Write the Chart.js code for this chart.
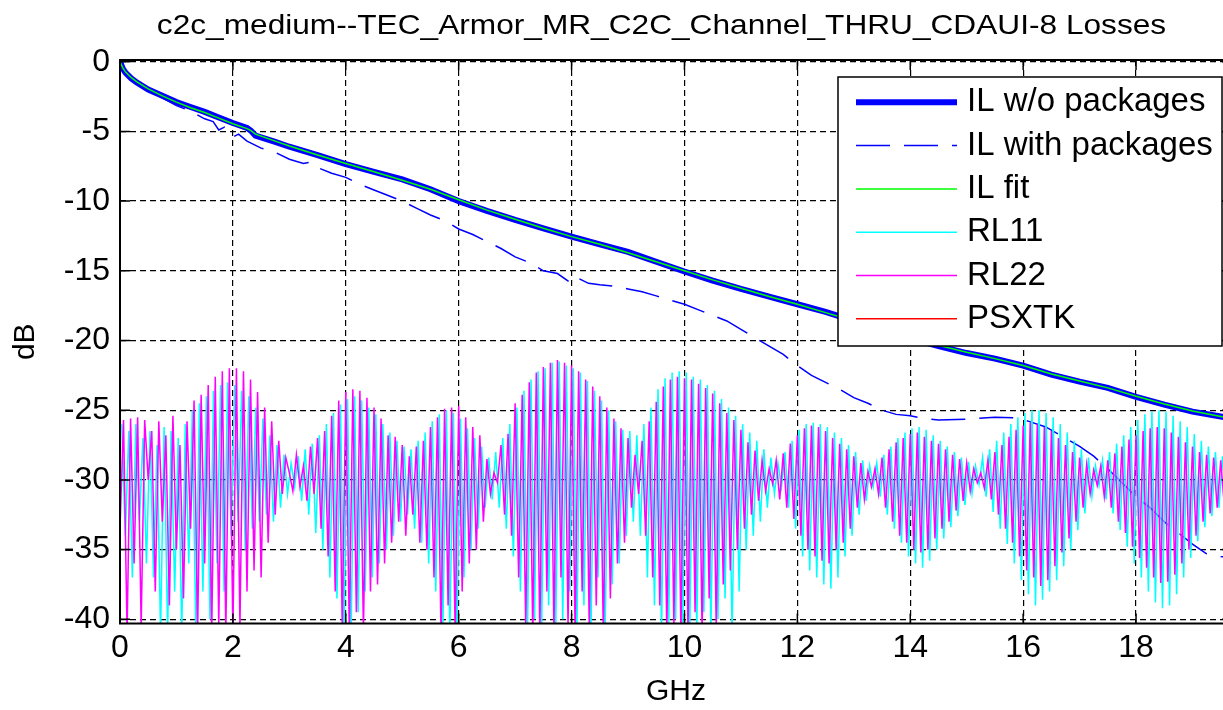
<!DOCTYPE html>
<html>
<head>
<meta charset="utf-8">
<script src="https://cdn.jsdelivr.net/npm/chart.js@4.4.1/dist/chart.umd.min.js"></script>
<style>
  html, body { margin: 0; padding: 0; background: #fff; overflow: hidden; }
  #wrap { width: 1240px; height: 710px; }
</style>
</head>
<body>
<div id="wrap"><canvas id="lossChart" width="1240" height="710"></canvas></div>
<script>
const chartTitle = 'c2c_medium--TEC_Armor_MR_C2C_Channel_THRU_CDAUI-8 Losses';
const xTicks = [0, 2, 4, 6, 8, 10, 12, 14, 16, 18];
const yTicks = [0, -5, -10, -15, -20, -25, -30, -35, -40];

// insertion loss, GHz / dB
const ilFreq = [0, 0.05, 0.1, 0.2, 0.3, 0.5, 0.75, 1, 1.25, 1.5, 1.75, 2, 2.25, 2.32, 2.4, 2.75, 3, 3.5, 4, 4.5,
  5, 5.5, 6, 6.5, 7, 7.5, 8, 8.5, 9, 9.5, 10, 10.5, 11, 11.5, 12, 12.5, 13, 13.5, 14, 14.5,
  15, 15.5, 16, 16.5, 17, 17.5, 18, 18.5, 19, 19.5, 19.7];
const ilNoPkg = [0, -0.5, -0.8, -1.2, -1.5, -2.0, -2.45, -2.9, -3.25, -3.6, -4.0, -4.4, -4.75, -4.95, -5.3, -5.75, -6.1, -6.7, -7.35, -7.9,
  -8.45, -9.15, -10.0, -10.7, -11.35, -11.95, -12.55, -13.1, -13.65, -14.35, -15.05, -15.7, -16.3, -16.85, -17.4, -17.95, -18.6, -19.2, -19.85, -20.4,
  -20.9, -21.3, -21.8, -22.45, -22.95, -23.4, -24.05, -24.6, -25.1, -25.45, -25.6];
const ilFit = [0, -0.45, -0.75, -1.15, -1.45, -1.95, -2.45, -2.9, -3.3, -3.65, -4.05, -4.45, -4.8, -4.95, -5.2, -5.7, -6.05, -6.7, -7.3, -7.9,
  -8.5, -9.15, -9.9, -10.65, -11.3, -11.95, -12.55, -13.1, -13.7, -14.35, -15.0, -15.65, -16.25, -16.85, -17.4, -18.0, -18.6, -19.2, -19.8, -20.35,
  -20.85, -21.3, -21.8, -22.4, -22.9, -23.4, -24.0, -24.55, -25.05, -25.45, -25.6];

const ilPkgFreq = [0, 0.1, 0.25, 0.5, 0.75, 1, 1.25, 1.5, 1.65, 1.75, 1.85, 2, 2.1, 2.25, 2.5, 2.75, 3, 3.25, 3.4, 3.5,
  3.75, 4, 4.25, 4.5, 4.75, 5, 5.25, 5.5, 5.75, 6, 6.25, 6.5, 6.75, 7, 7.25, 7.5, 7.75, 8, 8.1, 8.3,
  8.5, 8.75, 9, 9.25, 9.5, 9.75, 10, 10.25, 10.5, 10.75, 11, 11.25, 11.5, 11.75, 12, 12.25, 12.5, 12.75, 13, 13.25,
  13.5, 13.75, 14, 14.25, 14.5, 15, 15.5, 15.9, 16.1, 16.4, 16.7, 17, 17.25, 17.5, 17.75, 18, 18.25, 18.5, 18.75, 19,
  19.25, 19.5, 19.7];
const ilPkg = [0, -0.8, -1.3, -2.0, -2.6, -3.15, -3.55, -4.1, -4.3, -4.9, -4.7, -5.4, -5.2, -5.7, -6.2, -6.5, -7.0, -7.3, -7.2, -7.6,
  -8.0, -8.3, -8.8, -9.2, -9.6, -10.0, -10.5, -11.0, -11.4, -12.0, -12.4, -12.9, -13.4, -14.0, -14.4, -15.0, -15.2, -15.9, -15.5, -15.9,
  -16.0, -16.1, -16.3, -16.5, -16.8, -17.1, -17.4, -17.8, -18.2, -18.6, -19.2, -19.8, -20.4, -21.0, -21.8, -22.5, -23.0, -23.5, -24.1, -24.5,
  -25.0, -25.3, -25.4, -25.6, -25.7, -25.65, -25.5, -25.55, -25.8, -26.2, -26.9, -27.6, -28.3, -29.2, -30.2, -31.2, -32.0, -33.0, -33.8, -34.6,
  -35.3, -35.5, -35.6];

// return loss sweeps, one value every rlStep GHz
const rlStep = 0.0625;
const rl11 = [
  -26, -34, -26.5, -37, -26, -33, -27, -36,
  -26.5, -37, -27.5, -41, -26.2, -41, -26.5, -38,
  -27, -41, -26, -36, -25, -41, -24.5, -38,
  -24, -40, -23.6, -36, -23.2, -38, -23, -34,
  -23.2, -33, -23.6, -35, -24, -33.5, -24.8, -33,
  -25.6, -32.5, -26.8, -33, -27.5, -32, -28.2, -31,
  -28.8, -30.5, -28.3, -31.5, -27.8, -32.5, -27.4, -33.8,
  -26.8, -35, -26, -37, -25.2, -38.5, -24.6, -41,
  -24.2, -41, -24, -39.5, -24.3, -38, -24.8, -37,
  -25.3, -36, -26, -35, -26.6, -34, -27.2, -33,
  -27.6, -32.5, -27.8, -33.5, -27.2, -34.5, -26.6, -36,
  -25.8, -38, -25.3, -41, -25, -41, -25.2, -41,
  -25.6, -37, -26.3, -35, -27, -33.5, -27.6, -32,
  -28.4, -31.4, -28, -32, -27, -33.5, -26, -35.5,
  -24.8, -38, -23.6, -41, -22.8, -40, -22.2, -41,
  -22, -39, -21.6, -41, -21.5, -40, -21.8, -38,
  -22, -41, -22.3, -39, -22.9, -41, -23.6, -37,
  -24.3, -41, -25, -37.5, -25.8, -36, -26.4, -34,
  -26.5, -33, -26.8, -34, -26, -37, -24.8, -39,
  -23.5, -41, -22.7, -41, -22.3, -40, -22.2, -41,
  -22.3, -41, -22.6, -41, -22.8, -39.5, -23.2, -41,
  -23.6, -40, -24.2, -38.5, -24.8, -41, -25.4, -38,
  -26, -35, -26.6, -34, -27.2, -33, -27.8, -32,
  -28.4, -31, -28.8, -30.5, -28, -32, -27.2, -33.5,
  -26.4, -35.5, -26, -36.5, -25.9, -37, -26, -37.5,
  -26.2, -37.8, -26.6, -37, -27, -35.5, -27.5, -34,
  -28, -32.5, -28.6, -31.5, -29, -30.5, -28.8, -31.2,
  -28.2, -32.5, -27.6, -33.5, -27, -34.5, -26.6, -35.5,
  -26.3, -36, -26.2, -36.3, -26.4, -35.8, -26.8, -35,
  -27.2, -34.2, -27.6, -33.4, -28, -32.6, -28.4, -31.8,
  -28.7, -31, -29, -30.3, -28.4, -31.2, -27.8, -32.3,
  -27.2, -33.5, -26.6, -34.6, -26, -36, -25.5, -37.2,
  -25.2, -38.2, -25, -39, -25, -38.6, -25.2, -38,
  -25.5, -37.2, -26, -36.2, -26.6, -35, -27.2, -33.6,
  -27.8, -32.4, -28.4, -31.2, -29, -30.4, -28.6, -31.4,
  -28, -32.4, -27.4, -33.6, -26.8, -34.8, -26.2, -36,
  -25.7, -37, -25.3, -38, -25.1, -38.8, -25, -39.2,
  -25.1, -39, -25.4, -38.2, -25.8, -37, -26.2, -35.6,
  -26.7, -34.4, -27.2, -33.4, -27.6, -32.6, -28, -32,
  -28.3, -31.6, -28, -32.4
];
const rl22 = [
  -33.5, -25.7, -41, -25.6, -36, -25.5, -40.5, -25.7,
  -30, -26.5, -38, -25.8, -33, -26.8, -39, -25.4,
  -35, -27.5, -38.5, -25.8, -33.5, -24.3, -41, -23.9,
  -36, -23.2, -41, -22.6, -40.5, -22.2, -41, -22.0,
  -41, -22.0, -40.5, -22.2, -38, -22.8, -36.5, -23.7,
  -37, -24.8, -34.5, -25.8, -32.5, -27.2, -31, -28.4,
  -29.5, -30.8, -28.2, -30.5, -29, -31.5, -27.6, -31,
  -27, -33.5, -26.5, -35.5, -25.4, -38, -24.3, -40.5,
  -23.7, -41, -23.5, -39.5, -23.6, -41, -24.1, -38,
  -24.8, -37.5, -25.6, -36, -26.8, -34.5, -26.9, -33,
  -27.5, -34, -28.3, -32.5, -27.6, -34.5, -27.2, -35,
  -26.2, -37, -25.5, -41, -24.9, -39, -24.8, -41,
  -24.7, -38, -25.5, -36, -26.2, -35, -26.8, -33,
  -28.5, -31, -29.5, -30.2, -27.5, -32.5, -26.7, -34,
  -24.5, -37, -23.9, -40.5, -23, -41, -22.3, -41,
  -21.9, -38, -21.6, -41, -21.4, -37, -21.6, -40.5,
  -21.8, -41, -22.2, -38, -22.8, -40.5, -23.3, -39,
  -24, -41, -24.8, -38.5, -25.6, -36, -26.3, -34.5,
  -27, -32, -28.2, -31, -27.2, -34, -25.8, -37,
  -24.4, -39, -23.3, -41, -22.8, -40.5, -22.6, -41,
  -22.7, -41, -22.8, -39.5, -23.1, -41, -23.4, -38.5,
  -23.8, -40.5, -24.5, -37.5, -25.2, -36.5, -25.7, -35,
  -26.4, -33.5, -27.3, -32.5, -27.9, -31.5, -28.6, -30.8,
  -29.2, -30.3, -28.6, -31.4, -28.1, -32, -27.4, -32.8,
  -26.8, -34, -26.3, -35, -26.1, -35.5, -26.2, -35.8,
  -26.5, -36, -27, -35, -27.4, -34.5, -27.8, -33.5,
  -28.3, -32, -28.8, -31.4, -29.4, -30.5, -29.2, -31,
  -28.4, -32, -27.8, -33, -27.3, -34, -27, -34.5,
  -26.7, -35, -26.6, -35.2, -26.9, -35, -27.2, -34.2,
  -27.4, -33.5, -27.8, -33, -28.2, -32.2, -28.5, -31.5,
  -28.8, -30.8, -29.2, -30.2, -29.5, -30.6, -28.6, -31.4,
  -28, -32.5, -27.5, -33.5, -26.9, -34.5, -26.4, -35.5,
  -26.1, -36.5, -25.9, -37, -26, -37.6, -26.2, -37.2,
  -26.5, -36.2, -27, -35.2, -27.5, -34.2, -28, -33,
  -28.4, -32, -28.9, -31, -29.3, -30.4, -29, -31.2,
  -28.6, -32, -28.1, -33, -27.6, -33.8, -27.1, -34.8,
  -26.8, -35.6, -26.5, -36.3, -26.3, -37, -26.2, -37.4,
  -26.3, -37.3, -26.6, -36.8, -26.9, -36, -27.3, -35,
  -27.6, -34, -28, -33, -28.2, -32.4, -28.4, -32,
  -28.6, -31.8, -28.3, -32.6
];
const psxtk = []; // stays below -40 dB, nothing visible

const pts = (xs, ys) => ys.map((v, i) => ({ x: xs[i], y: v }));
const sweep = (ys, shift) => ys.map((v, i) => ({ x: (i + shift) * rlStep, y: v }));

const FONT = '"Liberation Sans", Arial, sans-serif';
Chart.defaults.font.family = FONT;
Chart.defaults.color = '#000';

// matlab style box, inner ticks, title and legend
const matlabFrame = {
  id: 'matlabFrame',
  afterDraw(chart) {
    const { ctx, chartArea: a, scales: { x, y } } = chart;
    ctx.save();
    ctx.strokeStyle = '#000';
    ctx.lineWidth = 1.5;
    ctx.beginPath();
    x.ticks.forEach(t => {
      const px = x.getPixelForValue(t.value);
      ctx.moveTo(px, a.bottom); ctx.lineTo(px, a.bottom - 10);
      ctx.moveTo(px, a.top); ctx.lineTo(px, a.top + 10);
    });
    y.ticks.forEach(t => {
      const py = y.getPixelForValue(t.value);
      ctx.moveTo(a.left, py); ctx.lineTo(a.left + 10, py);
      ctx.moveTo(a.right, py); ctx.lineTo(a.right - 10, py);
    });
    ctx.stroke();
    ctx.lineWidth = 2;
    ctx.strokeRect(a.left, a.top, a.right - a.left, a.bottom - a.top);

    // title
    ctx.save();
    ctx.fillStyle = '#000';
    ctx.font = '28px ' + FONT;
    ctx.textAlign = 'center';
    ctx.textBaseline = 'alphabetic';
    ctx.translate(661.5, 33.5);
    ctx.scale(1.13, 1);
    ctx.fillText(chartTitle, 0, 0);
    ctx.restore();

    // legend
    const box = { left: 838, top: 77, right: 1222, bottom: 346 };
    ctx.fillStyle = '#fff';
    ctx.fillRect(box.left, box.top, box.right - box.left, box.bottom - box.top);
    ctx.lineWidth = 1.5;
    ctx.strokeRect(box.left, box.top, box.right - box.left, box.bottom - box.top);
    ctx.font = '33px ' + FONT;
    ctx.textAlign = 'left';
    ctx.textBaseline = 'middle';
    chart.data.datasets.forEach((ds, i) => {
      const ly = 102.3 + i * 43.3;
      ctx.beginPath();
      ctx.setLineDash(ds.borderDash || []);
      ctx.lineWidth = ds.borderWidth;
      ctx.strokeStyle = ds.borderColor;
      ctx.moveTo(856, ly);
      ctx.lineTo(957, ly);
      ctx.stroke();
      ctx.setLineDash([]);
      ctx.fillStyle = '#000';
      ctx.fillText(ds.label, 967, ly);
    });
    ctx.restore();
  }
};

const ctx = document.getElementById('lossChart').getContext('2d');

new Chart(ctx, {
  type: 'line',
  data: {
    datasets: [
      { label: 'IL w/o packages', data: pts(ilFreq, ilNoPkg), borderColor: '#0000ff', borderWidth: 6, order: 6 },
      { label: 'IL with packages', data: pts(ilPkgFreq, ilPkg), borderColor: '#0000ff', borderWidth: 1.5, borderDash: [34, 14], order: 5 },
      { label: 'IL fit', data: pts(ilFreq, ilFit), borderColor: '#00ff00', borderWidth: 1.5, order: 4 },
      { label: 'RL11', data: sweep(rl11, 0.5), borderColor: '#00ffff', borderWidth: 1.5, order: 3, clip: 0 },
      { label: 'RL22', data: sweep(rl22, 0), borderColor: '#ff00ff', borderWidth: 1.5, order: 2, clip: 0 },
      { label: 'PSXTK', data: sweep(psxtk, 0), borderColor: '#ff0000', borderWidth: 1.5, order: 1, clip: 0 }
    ]
  },
  options: {
    responsive: false,
    animation: false,
    events: [],
    layout: { padding: { top: 60, right: 8, bottom: 0, left: 0 } },
    elements: { point: { radius: 0 }, line: { tension: 0, fill: false } },
    plugins: { legend: { display: false }, title: { display: false }, tooltip: { enabled: false } },
    scales: {
      x: {
        type: 'linear',
        min: 0,
        max: 19.7,
        afterBuildTicks: s => { s.ticks = xTicks.map(v => ({ value: v })); },
        afterFit: s => { s.height = 86.5; },
        ticks: { font: { size: 32 }, color: '#000', padding: 5, maxRotation: 0, autoSkip: false, callback: v => String(v) },
        grid: { color: '#000', lineWidth: 1.2, drawTicks: false },
        border: { display: false, dash: [6, 4] },
        title: { display: true, text: 'GHz', font: { size: 30 }, color: '#000', padding: { top: 0, bottom: 0 } }
      },
      y: {
        type: 'linear',
        min: -40.3,
        max: 0.12,
        afterBuildTicks: s => { s.ticks = yTicks.map(v => ({ value: v })); },
        afterFit: s => { s.width = 120; },
        ticks: { font: { size: 32 }, color: '#000', padding: 10, autoSkip: false, callback: v => String(v) },
        grid: { color: '#000', lineWidth: 1.2, drawTicks: false },
        border: { display: false, dash: [6, 4] },
        title: { display: true, text: 'dB', font: { size: 30 }, color: '#000', padding: { top: 8, bottom: 0 } }
      }
    }
  },
  plugins: [matlabFrame]
});
</script>
</body>
</html>
